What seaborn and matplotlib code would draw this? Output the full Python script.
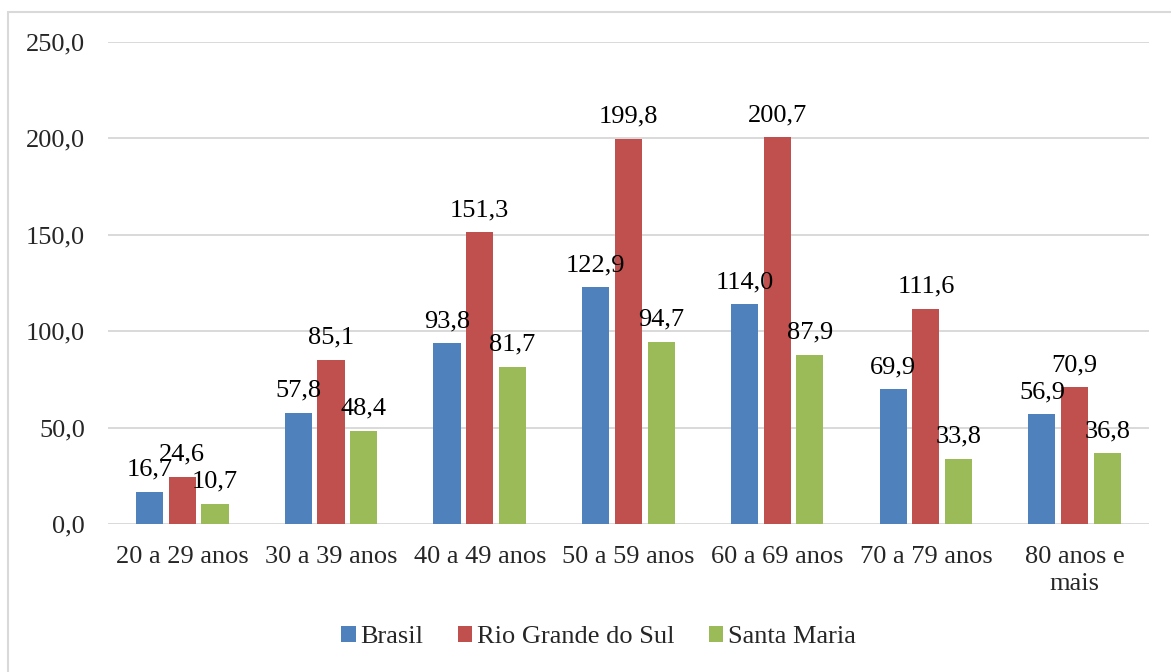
import matplotlib
matplotlib.use('Agg')
import pandas as pd
import seaborn as sns
import matplotlib.pyplot as plt
from matplotlib.patches import Rectangle

# Dados
faixas = ['20 a 29 anos', '30 a 39 anos', '40 a 49 anos', '50 a 59 anos',
          '60 a 69 anos', '70 a 79 anos', '80 anos e\nmais']
brasil = [16.7, 57.8, 93.8, 122.9, 114.0, 69.9, 56.9]
rio_grande = [24.6, 85.1, 151.3, 199.8, 200.7, 111.6, 70.9]
santa_maria = [10.7, 48.4, 81.7, 94.7, 87.9, 33.8, 36.8]
grupos = ['Brasil', 'Rio Grande do Sul', 'Santa Maria']
cores = ['#4F81BD', '#C0504D', '#9BBB59']
yticks = [0, 50, 100, 150, 200, 250]

df = pd.DataFrame({
    'faixa': faixas * 3,
    'grupo': [g for g in grupos for _ in faixas],
    'valor': brasil + rio_grande + santa_maria,
})

sns.set_theme(style='white')
plt.rcParams['font.family'] = 'serif'
plt.rcParams['font.serif'] = ['Liberation Serif', 'DejaVu Serif']
FONTE = 'Liberation Serif'

fig = plt.figure(figsize=(11.71, 6.72), dpi=100)
ax = fig.add_axes([0.0922, 0.22, 0.889, 0.7175])

sns.barplot(data=df, x='faixa', y='valor', hue='grupo', palette=cores, saturation=1,
            width=0.66, gap=0.17, linewidth=0, ax=ax)

# rótulos com vírgula decimal
for cont in ax.containers:
    ax.bar_label(cont, labels=[f'{v:.1f}'.replace('.', ',') for v in cont.datavalues],
                 padding=8, fontsize=19, color='black', family=FONTE)

ax.set_ylim(0, 250)
ax.set_xlim(-0.5, len(faixas) - 0.5)
ax.set_yticks(yticks)
ax.set_yticklabels([f'{t:.1f}'.replace('.', ',') for t in yticks], family=FONTE)
ax.set_xticks(range(len(faixas)))
ax.set_xticklabels(faixas, family=FONTE, linespacing=1.3)
ax.tick_params(axis='y', labelsize=19, pad=16.5, length=0)
ax.tick_params(axis='x', labelsize=19, pad=16, length=0)
ax.set_xlabel('')
ax.set_ylabel('')
ax.yaxis.grid(True, color='#D9D9D9', linewidth=1.4)
ax.set_axisbelow(True)
for s in ax.spines.values():
    s.set_visible(False)

ax.legend(loc='center', bbox_to_anchor=(0.511, 0.052), bbox_transform=fig.transFigure,
          ncol=3, frameon=False, prop={'family': FONTE, 'size': 19},
          handlelength=0.55, handleheight=0.55, handletextpad=0.18, columnspacing=1.3)

# moldura do gráfico (só topo e esquerda aparecem no recorte)
fig.patches.append(Rectangle((0.007, -0.1), 1.2, 1.082, transform=fig.transFigure,
                             fill=False, edgecolor='#D9D9D9', linewidth=1.5))

fig.savefig('out.png', dpi=100)
